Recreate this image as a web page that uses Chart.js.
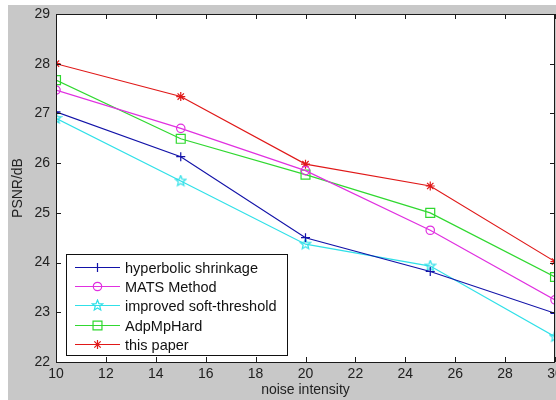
<!DOCTYPE html>
<html>
<head>
<meta charset="utf-8">
<script src="https://cdn.jsdelivr.net/npm/chart.js@4.4.0/dist/chart.umd.min.js"></script>
<style>
  html, body { margin: 0; padding: 0; background: #fff; }
  #wrap { width: 556px; height: 400px; }
</style>
</head>
<body>
<div id="wrap"><canvas id="psnr-graph"></canvas></div>
<script>
// values
var noiseLevels = [10, 15, 20, 25, 30];
var hyperbolicPsnr = [27.03, 26.13, 24.50, 23.82, 22.98];
var matsPsnr = [27.47, 26.70, 25.85, 24.65, 23.25];
var softThresholdPsnr = [26.90, 25.64, 24.37, 23.93, 22.51];
var adpMpHardPsnr = [27.67, 26.49, 25.77, 25.00, 23.71];
var thisPaperPsnr = [28.00, 27.34, 25.98, 25.54, 24.02];
var seriesNames = ['hyperbolic shrinkage', 'MATS Method', 'improved soft-threshold', 'AdpMpHard', 'this paper'];
var xTickValues = [10, 12, 14, 16, 18, 20, 22, 24, 26, 28, 30];
var yTickValues = [22, 23, 24, 25, 26, 27, 28, 29];

var FONT = '"Liberation Sans", Arial, sans-serif';

function pairs(ys) {
  var out = [];
  for (var i = 0; i < noiseLevels.length; i++) {
    out.push({ x: noiseLevels[i], y: ys[i] });
  }
  return out;
}

// matlab style pentagram marker
function makePentagram(color) {
  var c = document.createElement('canvas');
  c.width = 13; c.height = 13;
  var g = c.getContext('2d');
  g.strokeStyle = color;
  g.lineWidth = 1.2;
  g.beginPath();
  for (var k = 0; k < 10; k++) {
    var r = (k % 2 === 0) ? 5.5 : 2.4;
    var a = -Math.PI / 2 + k * Math.PI / 5;
    var px = 6.5 + r * Math.cos(a), py = 6.5 + r * Math.sin(a);
    if (k === 0) g.moveTo(px, py); else g.lineTo(px, py);
  }
  g.closePath();
  g.stroke();
  return c;
}

var blue = '#1212a8';
var magenta = '#e030e0';
var cyan = '#30e0e8';
var green = '#30d830';
var red = '#e01818';
var starImg = makePentagram(cyan);

function series(label, ys, color, style, radius) {
  return {
    label: label,
    data: pairs(ys),
    borderColor: color,
    backgroundColor: 'rgba(0,0,0,0)',
    pointBorderColor: color,
    pointBackgroundColor: 'rgba(0,0,0,0)',
    pointStyle: style,
    pointRadius: radius,
    pointBorderWidth: 1.2,
    borderWidth: 1.2,
    tension: 0,
    fill: false
  };
}

var frame = {
  id: 'matlabFrame',
  beforeDraw: function(chart) {
    var c = chart.ctx, a = chart.chartArea;
    c.save();
    c.fillStyle = '#c8c8c8';
    c.fillRect(8, 5, chart.width - 8, chart.height - 5);
    c.fillStyle = '#ffffff';
    c.fillRect(a.left, a.top, a.right - a.left, a.bottom - a.top);
    c.restore();
  },
  afterDraw: function(chart) {
    var c = chart.ctx, a = chart.chartArea;
    var xs = chart.scales.x, ys = chart.scales.y;
    c.save();
    c.strokeStyle = '#1a1a1a';
    c.lineWidth = 1;
    c.strokeRect(a.left + 0.5, a.top + 0.5, a.right - a.left - 1, a.bottom - a.top);
    // inward ticks on all four sides
    c.beginPath();
    xTickValues.forEach(function(v) {
      var px = Math.round(xs.getPixelForValue(v)) + 0.5;
      c.moveTo(px, a.bottom); c.lineTo(px, a.bottom - 5);
      c.moveTo(px, a.top); c.lineTo(px, a.top + 5);
    });
    yTickValues.forEach(function(v) {
      var py = Math.round(ys.getPixelForValue(v)) + 0.5;
      c.moveTo(a.left, py); c.lineTo(a.left + 5, py);
      c.moveTo(a.right, py); c.lineTo(a.right - 5, py);
    });
    c.stroke();

    // legend box, lower left
    var bx = 66, by = 254, bw = 221, bh = 101;
    c.fillStyle = '#ffffff';
    c.fillRect(bx, by, bw, bh);
    c.strokeStyle = '#111';
    c.strokeRect(bx + 0.5, by + 0.5, bw, bh);
    c.font = '14.5px ' + FONT;
    c.textBaseline = 'middle';
    c.textAlign = 'left';
    chart.data.datasets.forEach(function(ds, i) {
      var rowY = Math.round(by + 13 + i * 19.2) + 0.5;
      c.strokeStyle = ds.borderColor;
      c.fillStyle = 'rgba(0,0,0,0)';
      c.lineWidth = 1.2;
      c.beginPath();
      c.moveTo(75, rowY); c.lineTo(120, rowY);
      c.stroke();
      Chart.helpers.drawPoint(c, {
        pointStyle: ds.pointStyle,
        radius: ds.pointRadius,
        rotation: 0,
        borderWidth: 1.2
      }, 97.5, rowY);
      c.fillStyle = '#111';
      c.fillText(ds.label, 125, rowY + 1);
    });
    c.restore();
  }
};

var ctx = document.getElementById('psnr-graph').getContext('2d');
var psnrGraph = new Chart(ctx, {
  type: 'line',
  data: {
    datasets: [
      series(seriesNames[0], hyperbolicPsnr, blue, 'cross', 4.5),
      series(seriesNames[1], matsPsnr, magenta, 'circle', 4.2),
      series(seriesNames[2], softThresholdPsnr, cyan, starImg, 5),
      series(seriesNames[3], adpMpHardPsnr, green, 'rect', 6.3),
      series(seriesNames[4], thisPaperPsnr, red, 'star', 4.5)
    ]
  },
  options: {
    responsive: true,
    maintainAspectRatio: false,
    animation: false,
    layout: { autoPadding: false, padding: { left: 8, top: 14, right: 1, bottom: 0 } },
    plugins: {
      legend: { display: false },
      tooltip: { enabled: false }
    },
    scales: {
      x: {
        type: 'linear',
        min: 10,
        max: 30,
        afterBuildTicks: function(scale) {
          scale.ticks = xTickValues.map(function(v) { return { value: v }; });
        },
        afterFit: function(scale) {
          scale.height = 38;
          scale.paddingLeft = 0;
          scale.paddingRight = 0;
        },
        grid: { display: false, drawTicks: false },
        border: { display: false },
        ticks: {
          color: '#222',
          padding: 4,
          maxRotation: 0,
          autoSkip: false,
          font: { size: 14, family: FONT }
        },
        title: {
          display: true,
          text: 'noise intensity',
          color: '#222',
          padding: { top: 0, bottom: 1 },
          font: { size: 14, family: FONT }
        }
      },
      y: {
        min: 22,
        max: 29,
        afterBuildTicks: function(scale) {
          scale.ticks = yTickValues.map(function(v) { return { value: v }; });
        },
        afterFit: function(scale) {
          scale.width = 48;
          scale.paddingTop = 0;
          scale.paddingBottom = 0;
        },
        grid: { display: false, drawTicks: false },
        border: { display: false },
        ticks: {
          color: '#222',
          padding: 6,
          autoSkip: false,
          font: { size: 14, family: FONT }
        },
        title: {
          display: true,
          text: 'PSNR/dB',
          color: '#222',
          padding: { top: 2, bottom: 0 },
          font: { size: 14, family: FONT }
        }
      }
    }
  },
  plugins: [frame]
});
</script>
</body>
</html>
